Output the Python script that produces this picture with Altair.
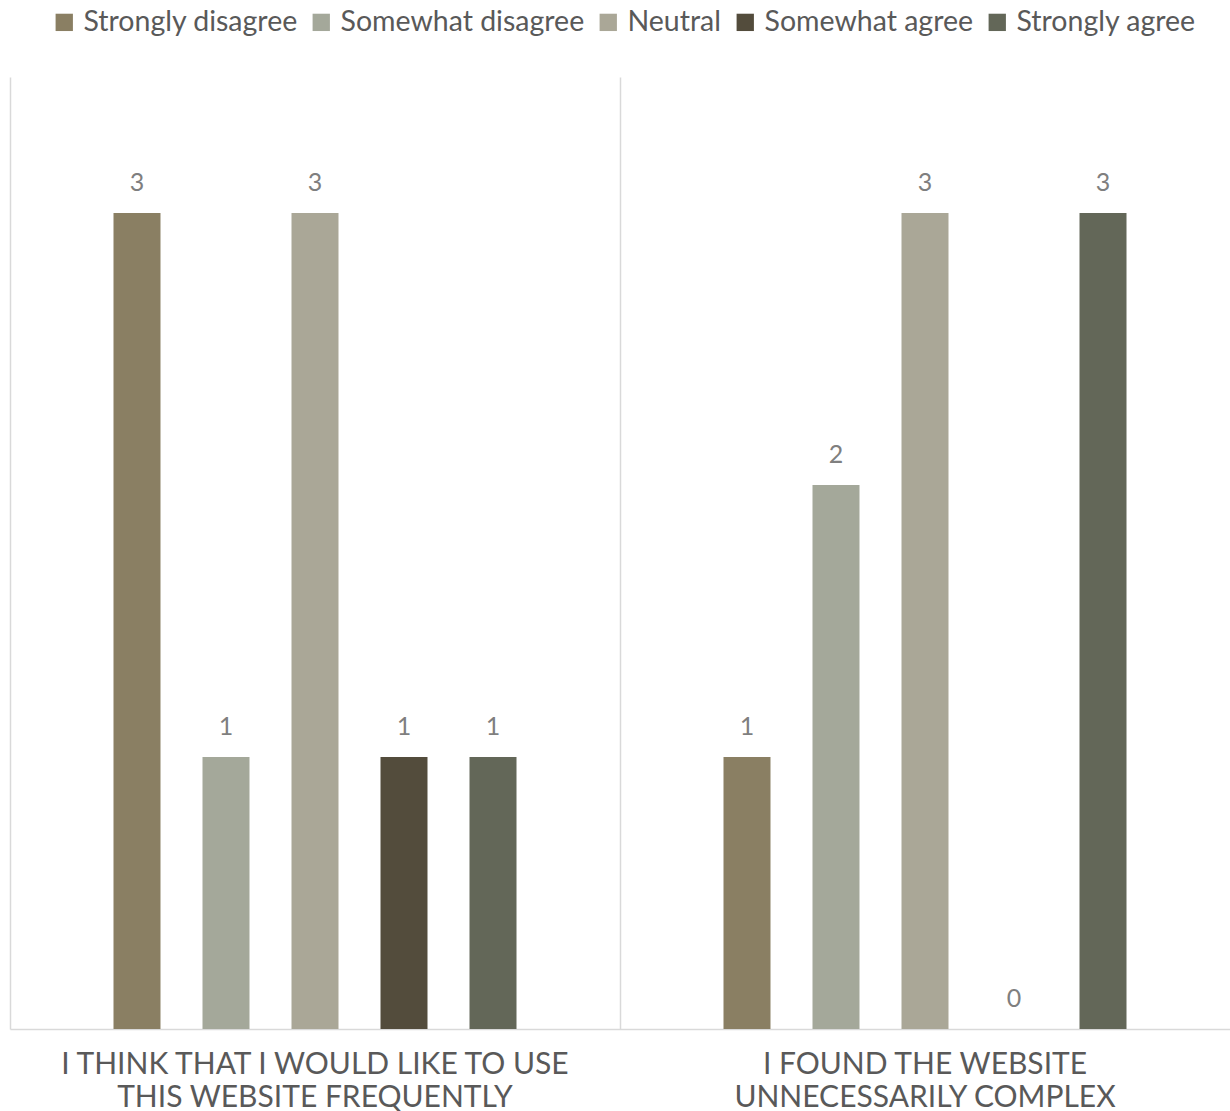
import altair as alt
import pandas as pd

questions = [
    "I THINK THAT I WOULD LIKE TO USE\nTHIS WEBSITE FREQUENTLY",
    "I FOUND THE WEBSITE\nUNNECESSARILY COMPLEX",
]
responses = ["Strongly disagree", "Somewhat disagree", "Neutral", "Somewhat agree", "Strongly agree"]
q1_counts = [3, 1, 3, 1, 1]
q2_counts = [1, 2, 3, 0, 3]
colors = ["#8A7F63", "#A4A89A", "#AAA797", "#534C3C", "#636758"]

rows = []
for q, counts in zip(questions, [q1_counts, q2_counts]):
    for r, c in zip(responses, counts):
        rows.append({"question": q, "response": r, "count": c})
df = pd.DataFrame(rows)

FONT = "Lato"

x_enc = alt.X(
    "question:N",
    sort=questions,
    scale=alt.Scale(paddingInner=0, paddingOuter=0),
    axis=alt.Axis(
        title=None,
        labelAngle=0,
        labelExpr="split(datum.label, '\\n')",
        labelFont=FONT,
        labelFontSize=30,
        labelColor="#595959",
        labelLineHeight=33,
        labelPadding=20,
        labelBaseline="top",
        labelLimit=1000,
        ticks=False,
        domainColor="#D9D9D9",
        domainWidth=1.5,
        grid=True,
        bandPosition=0,
        gridColor="#D9D9D9",
        gridWidth=1.5,
    ),
)
off_scale = alt.Scale(range=[103.5, 506.5], paddingInner=0.472, paddingOuter=0)
xoff = alt.XOffset("response:N", sort=responses, scale=off_scale)
y_enc = alt.Y("count:Q", scale=alt.Scale(domain=[0, 3.5]), axis=None)

bars = alt.Chart(df).mark_bar().encode(
    x=x_enc,
    xOffset=xoff,
    y=y_enc,
    color=alt.Color(
        "response:N",
        sort=responses,
        scale=alt.Scale(domain=responses, range=colors),
        legend=alt.Legend(
            title=None,
            orient="none",
            direction="horizontal",
            columns=5,
            legendX=35,
            legendY=-74,
            padding=5,
            symbolType="square",
            symbolSize=300,
            symbolStrokeWidth=0,
            labelFont=FONT,
            labelFontSize=28.5,
            labelColor="#595959",
            labelOffset=5,
            columnPadding=9,
            labelLimit=400,
        ),
    ),
)

labels = alt.Chart(df).mark_text(
    baseline="bottom", dy=-17, font=FONT, fontSize=25, color="#7F7F7F"
).encode(
    x=alt.X("question:N", sort=questions),
    xOffset=alt.XOffset("response:N", sort=responses, scale=off_scale),
    y=y_enc,
    text=alt.Text("count:Q"),
)

chart = (
    alt.layer(bars, labels)
    .properties(
        width=1220,
        height=952,
        autosize=alt.AutoSizeParams(type="none"),
        padding={"left": 10, "top": 77, "right": 0, "bottom": 82},
    )
    .configure_view(stroke=None)
)

chart.save("out.html", embed_options={"renderer": "svg", "actions": False})
